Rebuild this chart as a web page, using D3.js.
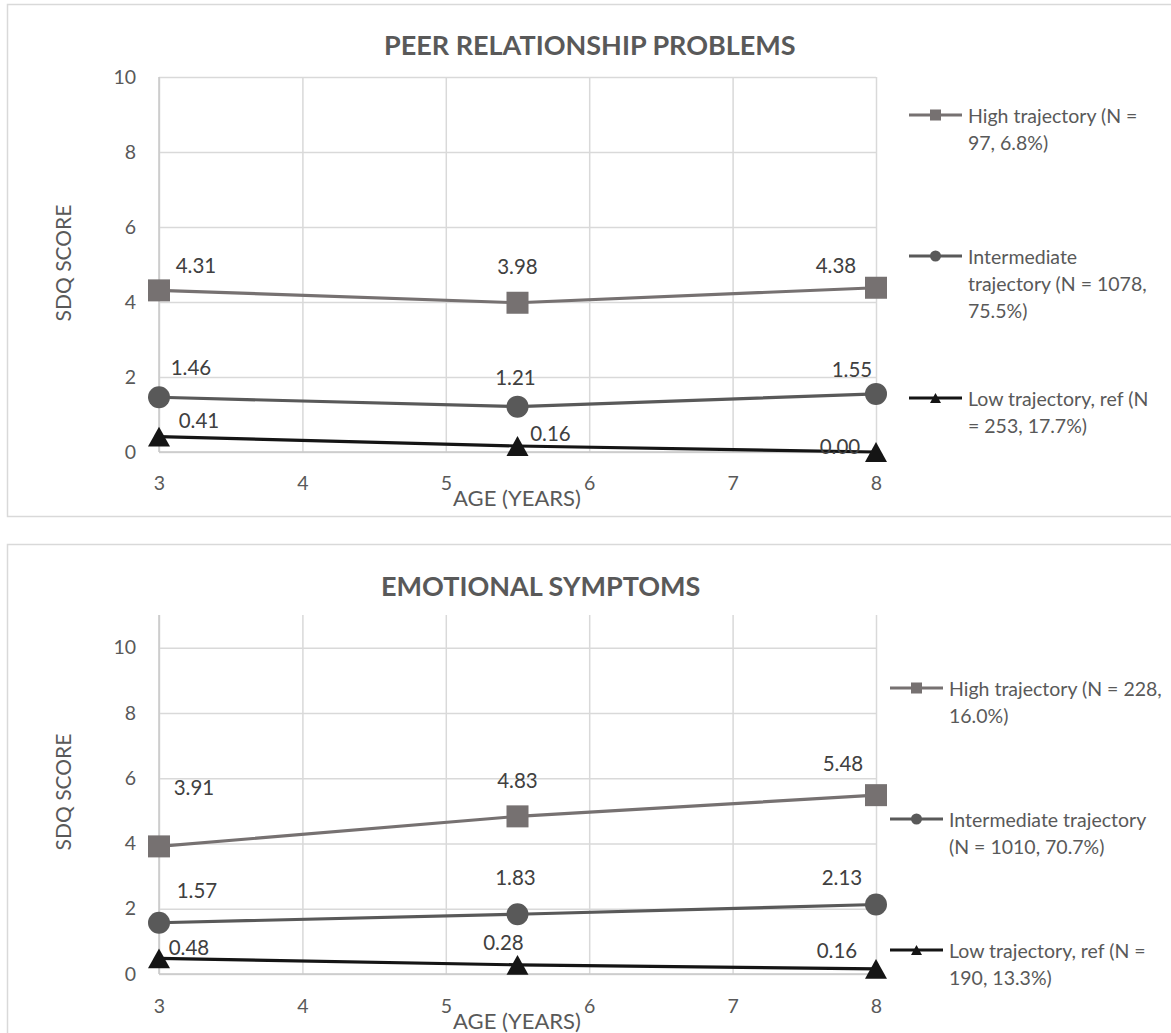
<!DOCTYPE html>
<html>
<head>
<meta charset="utf-8">
<script src="https://cdn.jsdelivr.net/npm/d3@7"></script>
<style>
  html, body { margin: 0; padding: 0; background: #ffffff; }
  svg { display: block; font-family: Lato, "Open Sans", sans-serif; }
</style>
</head>
<body>
<svg id="chart" width="1171" height="1033"></svg>
<script>
// ---- data -------------------------------------------------------------
const ages = [3, 5.5, 8];
const xTicks = [3, 4, 5, 6, 7, 8];
const yTicks = [0, 2, 4, 6, 8, 10];
const seriesNames = ["High", "Intermediate", "Low"];

const peerHigh = [4.31, 3.98, 4.38];
const peerIntermediate = [1.46, 1.21, 1.55];
const peerLow = [0.41, 0.16, 0.00];

const emoHigh = [3.91, 4.83, 5.48];
const emoIntermediate = [1.57, 1.83, 2.13];
const emoLow = [0.48, 0.28, 0.16];

const peerLegend = [
  ["High trajectory (N =", "97, 6.8%)"],
  ["Intermediate", "trajectory (N = 1078,", "75.5%)"],
  ["Low trajectory, ref (N", "= 253, 17.7%)"]
];
const emoLegend = [
  ["High trajectory (N = 228,", "16.0%)"],
  ["Intermediate trajectory", "(N = 1010, 70.7%)"],
  ["Low trajectory, ref (N =", "190, 13.3%)"]
];

const peerTitle = "PEER RELATIONSHIP PROBLEMS";
const emoTitle = "EMOTIONAL SYMPTOMS";
const yTitle = "SDQ SCORE";
const xTitle = "AGE (YEARS)";

// ---- styling ----------------------------------------------------------
const seriesStyle = {
  High:         { color: "#767171", shape: "square" },
  Intermediate: { color: "#595959", shape: "circle" },
  Low:          { color: "#151515", shape: "triangle" }
};
const textColor = "#595959";
const gridColor = "#d9d9d9";

// label placement relative to each marker centre [dx, dy]
const peerLabelOffsets = {
  High:         [[37, -25], [0, -37], [-40, -23]],
  Intermediate: [[32, -30], [-2, -30], [-24, -25]],
  Low:          [[40, -17], [33, -13], [-36, -6]]
};
const emoLabelOffsets = {
  High:         [[35, -59], [0, -36], [-33, -32]],
  Intermediate: [[38, -33], [-2, -37], [-34, -27]],
  Low:          [[30, -11], [-14, -23], [-39, -19]]
};

// panel layout
const panels = [
  {
    title: peerTitle, titleX: 384, boxTop: 4, boxBottom: 516, titleY: 44,
    plotTop: 77, plotBottom: 452, yMax: 10, xLabelY: 483, xTitleY: 497, yTitleY: 263,
    series: { High: peerHigh, Intermediate: peerIntermediate, Low: peerLow },
    offsets: peerLabelOffsets, legend: peerLegend,
    legendX1: 909, legendX2: 962, legendTextX: 968, legendY: [115, 256, 398]
  },
  {
    title: emoTitle, titleX: 381, boxTop: 544, boxBottom: 1060, titleY: 585,
    plotTop: 615, plotBottom: 974, yMax: 11, xLabelY: 1006, xTitleY: 1020, yTitleY: 792,
    series: { High: emoHigh, Intermediate: emoIntermediate, Low: emoLow },
    offsets: emoLabelOffsets, legend: emoLegend,
    legendX1: 890, legendX2: 943, legendTextX: 949, legendY: [688, 819, 950]
  }
];

const plotLeft = 159, plotRight = 876;
const svg = d3.select("#chart");

function drawMarker(g, shape, x, y, size, color) {
  if (shape === "square") {
    g.append("rect").attr("x", x - size / 2).attr("y", y - size / 2)
      .attr("width", size).attr("height", size).attr("fill", color);
  } else if (shape === "circle") {
    g.append("circle").attr("cx", x).attr("cy", y).attr("r", size / 2).attr("fill", color);
  } else {
    const h = size * 0.9;
    g.append("path")
      .attr("d", `M${x},${y - h / 2}L${x + size / 2},${y + h / 2}L${x - size / 2},${y + h / 2}Z`)
      .attr("fill", color);
  }
}

panels.forEach(p => {
  const g = svg.append("g");

  // chart frame
  g.append("rect")
    .attr("x", 7.5).attr("y", p.boxTop + 0.5)
    .attr("width", 1200).attr("height", p.boxBottom - p.boxTop)
    .attr("fill", "#ffffff").attr("stroke", gridColor).attr("stroke-width", 1.5);

  const x = d3.scaleLinear().domain([3, 8]).range([plotLeft, plotRight]);
  const y = d3.scaleLinear().domain([0, p.yMax]).range([p.plotBottom, p.plotTop]);

  // vertical gridlines + x tick labels
  const xAxis = g.append("g")
    .attr("transform", `translate(0,${p.plotBottom})`)
    .call(d3.axisBottom(x).tickValues(xTicks).tickFormat(d3.format("d"))
      .tickSize(-(p.plotBottom - p.plotTop)).tickPadding(p.xLabelY - p.plotBottom - 7));
  xAxis.select(".domain").remove();
  xAxis.selectAll(".tick line").attr("stroke", gridColor).attr("stroke-width", 1.5);
  xAxis.selectAll(".tick text").attr("fill", textColor)
    .attr("font-size", 19.5).attr("font-family", "Lato, sans-serif");

  // horizontal gridlines + y tick labels
  const yAxis = g.append("g")
    .attr("transform", `translate(${plotLeft},0)`)
    .call(d3.axisLeft(y).tickValues(yTicks).tickFormat(d3.format("d"))
      .tickSize(-(plotRight - plotLeft)).tickPadding(23));
  yAxis.select(".domain").remove();
  yAxis.selectAll(".tick line").attr("stroke", gridColor).attr("stroke-width", 1.5);
  yAxis.selectAll(".tick text").attr("fill", textColor)
    .attr("font-size", 19.5).attr("font-family", "Lato, sans-serif");

  // axis lines
  g.append("line").attr("x1", plotLeft).attr("x2", plotLeft)
    .attr("y1", p.plotTop).attr("y2", p.plotBottom)
    .attr("stroke", "#c8c8c8").attr("stroke-width", 1.5);
  g.append("line").attr("x1", plotLeft).attr("x2", plotRight)
    .attr("y1", y(0)).attr("y2", y(0))
    .attr("stroke", "#c8c8c8").attr("stroke-width", 1.5);

  // titles
  g.append("text").attr("x", p.titleX).attr("y", p.titleY)
    .attr("dominant-baseline", "central")
    .attr("font-size", 27).attr("font-weight", "bold").attr("fill", textColor)
    .text(p.title);
  g.append("text")
    .attr("transform", `translate(62,${p.yTitleY}) rotate(-90)`)
    .attr("text-anchor", "middle").attr("dominant-baseline", "central")
    .attr("font-size", 21).attr("fill", textColor).text(yTitle);
  g.append("text").attr("x", 517).attr("y", p.xTitleY)
    .attr("text-anchor", "middle").attr("dominant-baseline", "central")
    .attr("font-size", 22).attr("fill", textColor).text(xTitle);

  // series lines, markers, value labels
  const line = d3.line().x(d => x(d[0])).y(d => y(d[1]));
  seriesNames.forEach(name => {
    const vals = p.series[name];
    const st = seriesStyle[name];
    const pts = ages.map((a, i) => [a, vals[i]]);
    g.append("path").datum(pts).attr("d", line)
      .attr("fill", "none").attr("stroke", st.color).attr("stroke-width", 3.2);
    pts.forEach((d, i) => {
      drawMarker(g, st.shape, x(d[0]), y(d[1]), 22, st.color);
      const off = p.offsets[name][i];
      g.append("text").attr("x", x(d[0]) + off[0]).attr("y", y(d[1]) + off[1])
        .attr("text-anchor", "middle").attr("dominant-baseline", "central")
        .attr("font-size", 20.5).attr("fill", "#404040")
        .text(d3.format(".2f")(d[1]));
    });
  });

  // legend
  seriesNames.forEach((name, i) => {
    const st = seriesStyle[name];
    const ly = p.legendY[i];
    g.append("line").attr("x1", p.legendX1).attr("x2", p.legendX2)
      .attr("y1", ly).attr("y2", ly).attr("stroke", st.color).attr("stroke-width", 3.2);
    drawMarker(g, st.shape, (p.legendX1 + p.legendX2) / 2, ly, 11, st.color);
    p.legend[i].forEach((txt, j) => {
      g.append("text").attr("x", p.legendTextX).attr("y", ly + j * 27)
        .attr("dominant-baseline", "central")
        .attr("font-size", 19.5).attr("fill", textColor).text(txt);
    });
  });
});
</script>
</body>
</html>
